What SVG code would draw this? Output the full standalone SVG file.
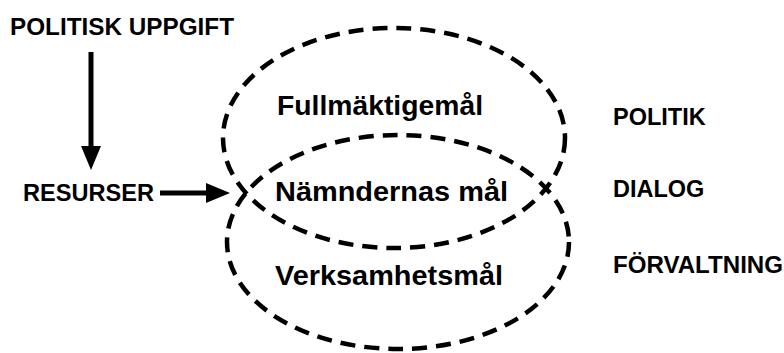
<svg xmlns="http://www.w3.org/2000/svg" width="784" height="353" viewBox="0 0 784 353">
  <style>
    text { font-family: "Liberation Sans", Arial, Helvetica, sans-serif; font-weight: bold; fill: #000; }
    .cap { font-size: 23.5px; }
    .goal { font-size: 27px; }
    .ell { fill: none; stroke: #000; stroke-width: 4.5; stroke-dasharray: 15 9; }
    .arr { stroke: #000; stroke-width: 5; fill: none; }
  </style>
  <defs>
    <marker id="head" markerUnits="userSpaceOnUse" markerWidth="24" markerHeight="20" refX="16" refY="10" orient="auto">
      <path d="M0,0 L24,10 L0,20 Z" fill="#000"/>
    </marker>
  </defs>
  <rect width="784" height="353" fill="#fff"/>

  <g id="ellipse-fullmaktige">
    <ellipse class="ell" cx="394" cy="138" rx="171" ry="110"/>
  </g>
  <g id="ellipse-verksamhet">
    <ellipse class="ell" cx="398" cy="242" rx="171" ry="107"/>
  </g>

  <g id="politisk-uppgift">
    <text class="cap" x="10" y="35" textLength="224" lengthAdjust="spacingAndGlyphs">POLITISK UPPGIFT</text>
  </g>
  <g id="resurser">
    <text class="cap" x="23" y="201" textLength="131" lengthAdjust="spacingAndGlyphs">RESURSER</text>
  </g>
  <g id="fullmaktigemal">
    <text class="goal" x="277" y="115" textLength="206" lengthAdjust="spacingAndGlyphs">Fullmäktigemål</text>
  </g>
  <g id="namndernas-mal">
    <text class="goal" x="275" y="201" textLength="233" lengthAdjust="spacingAndGlyphs">Nämndernas mål</text>
  </g>
  <g id="verksamhetsmal">
    <text class="goal" x="275" y="285" textLength="228" lengthAdjust="spacingAndGlyphs">Verksamhetsmål</text>
  </g>
  <g id="politik">
    <text class="cap" x="613" y="125">POLITIK</text>
  </g>
  <g id="dialog">
    <text class="cap" x="613" y="197">DIALOG</text>
  </g>
  <g id="forvaltning">
    <text class="cap" x="613" y="273" textLength="170" lengthAdjust="spacingAndGlyphs">FÖRVALTNING</text>
  </g>

  <g id="connectors">
    <line class="arr" x1="91" y1="52" x2="91" y2="162" marker-end="url(#head)"/>
    <line class="arr" x1="160" y1="193" x2="222" y2="193" marker-end="url(#head)"/>
  </g>
</svg>
